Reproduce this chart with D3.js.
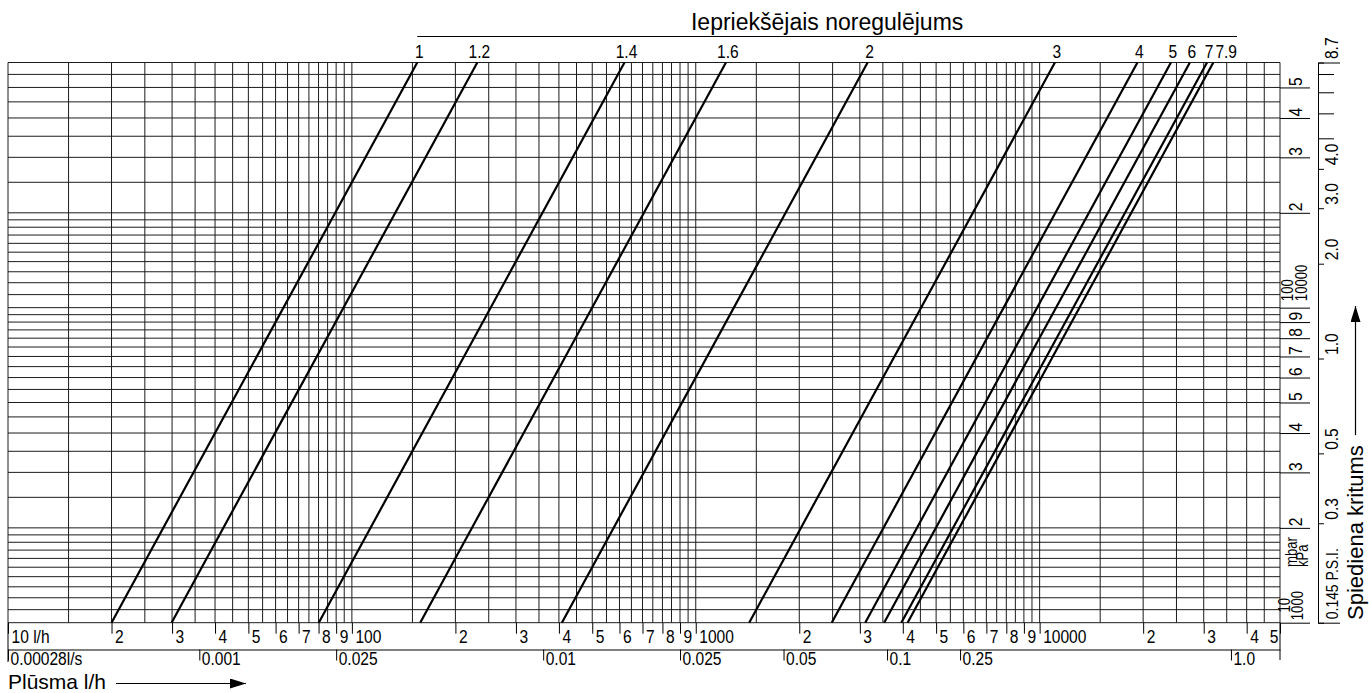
<!DOCTYPE html>
<html>
<head>
<meta charset="utf-8">
<script src="https://cdn.jsdelivr.net/npm/d3@7"></script>
<style>
  html, body { margin: 0; padding: 0; background: #fff; }
  svg { display: block; }
</style>
</head>
<body>
<svg id="chart" width="1369" height="693"></svg>
<script>
// ---- Valve presetting diagram: pressure drop vs. flow for each presetting ----

// Presetting positions and their kv values (m3/h)
const settings = ["1", "1.2", "1.4", "1.6", "2", "3", "4", "5", "6", "7", "7.9"];
const kvValues = [0.200, 0.299, 0.801, 1.58, 4.08, 14.3, 24.85, 31.1, 35.3, 39.6, 41.3];

// Axis ranges
const flowRange = [10, 50000];     // l/h
const pressureRange = [10, 600];   // mbar

// Flow axis (l/h) ticks and labels
const flowTicks = [10, 20, 30, 40, 50, 60, 70, 80, 90,
                   100, 200, 300, 400, 500, 600, 700, 800, 900,
                   1000, 2000, 3000, 4000, 5000, 6000, 7000, 8000, 9000,
                   10000, 20000, 30000, 40000, 50000];
const flowTickLabels = ["10 l/h", "2", "3", "4", "5", "6", "7", "8", "9",
                        "100", "2", "3", "4", "5", "6", "7", "8", "9",
                        "1000", "2", "3", "4", "5", "6", "7", "8", "9",
                        "10000", "2", "3", "4", "5"];

// Flow axis in l/s (positions given in l/h)
const lsTickFlows = [10, 36, 90, 360, 900, 1800, 3600, 5870, 36000];
const lsTickLabels = ["0.00028l/s", "0.001", "0.025", "0.01", "0.025", "0.05", "0.1", "0.25", "1.0"];

// Pressure axis in mbar
const mbarTicks = [10, 20, 30, 40, 50, 60, 70, 80, 90, 100, 200, 300, 400, 500];
const mbarTickLabels = ["10", "2", "3", "4", "5", "6", "7", "8", "9", "100", "2", "3", "4", "5"];
const paTicks = [10, 100];
const paTickLabels = ["1000", "10000"];

// Pressure axis in P.S.I.
const psiTicks = [0.145, 0.3, 0.5, 1.0, 2.0, 3.0, 4.0, 8.7];
const psiTickLabels = ["0.145 P.S.I.", "0.3", "0.5", "1.0", "2.0", "3.0", "4.0", "8.7"];
const psiMinorTicks = [5, 6, 7, 8];
const PSI_TO_MBAR = 68.9476;

// ---- fonts ----
const NARROW = (() => {
  const c = document.createElement("canvas").getContext("2d");
  const s = "0123456789 mbar kPa";
  c.font = "40px monospace"; const w0 = c.measureText(s).width;
  c.font = "40px 'Liberation Sans Narrow', monospace"; const w1 = c.measureText(s).width;
  return Math.abs(w1 - w0) > 0.5;
})();
const numFamily = NARROW ? "'Liberation Sans Narrow', 'Arial Narrow', sans-serif"
                         : "'Liberation Sans', Arial, sans-serif";
const SX = NARROW ? 1 : 0.82;
const titleFamily = "'Liberation Sans', Arial, Helvetica, sans-serif";

// ---- layout ----
const X0 = 8, X1 = 1280;          // plot left/right
const YT = 62.5, YB = 622.7;      // plot top/bottom
const XPSI = 1318;                // P.S.I. column line

const svg = d3.select("#chart");

const x = d3.scaleLog().domain(flowRange).range([X0, X1]);
const y = d3.scaleLog().domain(pressureRange).range([YB, YT]);
const psi = d3.scaleLog().domain(pressureRange.map(p => p / PSI_TO_MBAR)).range([YB, YT]);

// grid values: half-unit steps per flow decade, graded steps per pressure decade
const vGrid = [];
[10, 100, 1000, 10000].forEach(d => {
  for (let m = 1; m < 10; m += 0.5) { const v = d * m; if (v <= flowRange[1]) vGrid.push(v); }
});
const hGrid = [];
for (let v = 10; v < 20; v += 1) hGrid.push(v);
for (let v = 20; v < 100; v += 5) hGrid.push(v);
for (let v = 100; v < 200; v += 10) hGrid.push(v);
for (let v = 200; v <= 600; v += 50) hGrid.push(v);

const grid = svg.append("g").attr("stroke", "#1c1c1c").attr("stroke-width", 1);
grid.selectAll("line.v").data(vGrid).join("line").attr("class", "v")
  .attr("x1", d => x(d)).attr("x2", d => x(d)).attr("y1", YT).attr("y2", YB);
grid.selectAll("line.h").data(hGrid).join("line").attr("class", "h")
  .attr("x1", X0).attr("x2", X1).attr("y1", d => y(d)).attr("y2", d => y(d));

// frame extensions below the plot
svg.append("line").attr("x1", X0).attr("x2", X0).attr("y1", YB).attr("y2", 662).attr("stroke", "#000");
svg.append("line").attr("x1", X1).attr("x2", X1).attr("y1", YB).attr("y2", 660).attr("stroke", "#000");

// ---- presetting curves: Q = kv * 1000 * sqrt(dp[bar]) ----
const flowAt = (kv, p) => kv * 1000 * Math.sqrt(p / 1000);
const line = d3.line().x(d => x(d.q)).y(d => y(d.p));
const curves = settings.map((s, i) => ({
  s, kv: kvValues[i],
  pts: pressureRange.map(p => ({ p, q: flowAt(kvValues[i], p) }))
}));
svg.append("g").selectAll("path").data(curves).join("path")
  .attr("d", d => line(d.pts))
  .attr("fill", "none").attr("stroke", "#000").attr("stroke-width", 2.2);

// curve labels along the top
const lbl = svg.append("g").attr("font-family", numFamily).attr("font-size", 19).attr("fill", "#000");
const labelNodes = lbl.selectAll("text").data(curves).join("text")
  .attr("text-anchor", "middle").text(d => d.s);
const cx = curves.map(d => x(flowAt(d.kv, pressureRange[1])) + 2);
const widths = labelNodes.nodes().map(n => n.getComputedTextLength() * SX);
for (let i = 1; i < cx.length; i++) {
  const minC = cx[i - 1] + widths[i - 1] / 2 + 2 + widths[i] / 2;
  if (cx[i] < minC) cx[i] = minC;
}
labelNodes.attr("transform", (d, i) => `translate(${cx[i]},58) scale(${SX},1)`);

// title over the curve labels
const tx1 = x(flowAt(kvValues[0], pressureRange[1]));
const tx2 = cx[cx.length - 1] + widths[widths.length - 1] / 2;
svg.append("line").attr("x1", tx1).attr("x2", tx2).attr("y1", 36.5).attr("y2", 36.5)
  .attr("stroke", "#000").attr("stroke-width", 1);
svg.append("text").attr("x", (tx1 + tx2) / 2).attr("y", 30).attr("text-anchor", "middle")
  .attr("font-family", titleFamily).attr("font-size", 23).attr("fill", "#000")
  .text("Iepriekšējais noregulējums");

// ---- flow axis (l/h) ----
const gFlow = svg.append("g").attr("transform", `translate(0,${YB})`)
  .call(d3.axisBottom(x).tickValues(flowTicks).tickFormat((d, i) => flowTickLabels[i])
    .tickSize(11).tickSizeOuter(0));
gFlow.select(".domain").remove();
gFlow.attr("font-family", numFamily).attr("font-size", 19);
gFlow.selectAll(".tick line").attr("stroke", "#000");
const lastF = flowTicks.length - 1;
gFlow.selectAll(".tick text").attr("fill", "#000").attr("x", 0).attr("y", 0).attr("dy", null)
  .attr("text-anchor", (d, i) => i === lastF ? "end" : "start")
  .attr("transform", (d, i) => `translate(${i === lastF ? -2 : 3},20) scale(${SX},1)`);

// ---- flow axis (l/s) ----
const gLs = svg.append("g").attr("transform", `translate(0,649.5)`)
  .call(d3.axisBottom(x).tickValues(lsTickFlows).tickFormat((d, i) => lsTickLabels[i])
    .tickSize(11).tickSizeOuter(0));
gLs.attr("font-family", numFamily).attr("font-size", 19);
gLs.select(".domain").attr("stroke", "#000");
gLs.selectAll(".tick line").attr("stroke", "#000");
gLs.selectAll(".tick text").attr("fill", "#000").attr("x", 0).attr("y", 0).attr("dy", null)
  .attr("text-anchor", "start")
  .attr("transform", `translate(2,15.5) scale(${SX},1)`);

// ---- pressure axis (mbar) ----
const gM = svg.append("g").attr("transform", `translate(${X1},0)`)
  .call(d3.axisRight(y).tickValues(mbarTicks).tickFormat((d, i) => mbarTickLabels[i])
    .tickSize(30).tickSizeOuter(0));
gM.select(".domain").remove();
gM.attr("font-family", numFamily).attr("font-size", 19);
gM.selectAll(".tick line").attr("stroke", "#000");
gM.selectAll(".tick text").attr("fill", "#000").attr("x", 0).attr("y", 0).attr("dy", null)
  .attr("text-anchor", "start")
  .attr("transform", `translate(22,-2) rotate(-90) scale(${SX},1)`);

// stacked labels at the decade ticks (mbar / Pa)
gM.selectAll(".tick").filter(d => paTicks.includes(d)).each(function (d) {
  const g = d3.select(this);
  const k = paTicks.indexOf(d);
  const t = g.select("text").attr("font-size", 16);
  if (k === 0) {
    t.attr("text-anchor", "middle").attr("transform", `translate(10,-18) rotate(-90) scale(${SX},1)`);
    g.append("text").attr("fill", "#000").attr("font-size", 16).attr("text-anchor", "start")
      .attr("transform", `translate(23,-3) rotate(-90) scale(${SX},1)`).text(paTickLabels[k]);
  } else {
    t.attr("transform", `translate(13,-7) rotate(-90) scale(${SX},1)`);
    g.append("text").attr("fill", "#000").attr("font-size", 16).attr("text-anchor", "start")
      .attr("transform", `translate(27,-7) rotate(-90) scale(${SX},1)`).text(paTickLabels[k]);
  }
});

// unit labels
const units = svg.append("g").attr("font-family", numFamily).attr("font-size", 16).attr("fill", "#000");
units.append("text").attr("transform", `translate(${X1 + 17},567) rotate(-90) scale(${SX},1)`).text("mbar");
units.append("text").attr("transform", `translate(${X1 + 28},567) rotate(-90) scale(${SX},1)`).text("kPa");

// ---- pressure axis (P.S.I.) ----
const gP = svg.append("g").attr("transform", `translate(${XPSI},0)`)
  .call(d3.axisRight(psi).tickValues(psiTicks).tickFormat((d, i) => psiTickLabels[i])
    .tickSize(6).tickSizeOuter(22));
gP.attr("font-family", numFamily).attr("font-size", 19);
gP.select(".domain").attr("stroke", "#000");
gP.selectAll(".tick line").attr("stroke", "#000");
gP.selectAll(".tick text").attr("fill", "#000").attr("x", 0).attr("y", 0).attr("dy", null)
  .attr("text-anchor", "start")
  .attr("font-size", (d, i) => i === 0 ? 17 : 19)
  .attr("transform", `translate(20,-4) rotate(-90) scale(${SX},1)`);

const gPm = svg.append("g").attr("transform", `translate(${XPSI + 1},0)`)
  .call(d3.axisRight(psi).tickValues(psiMinorTicks).tickFormat("").tickSize(15).tickSizeOuter(0));
gPm.select(".domain").remove();
gPm.selectAll(".tick line").attr("stroke", "#000");

// ---- axis titles with arrows ----
const defs = svg.append("defs");
defs.append("marker").attr("id", "arrow").attr("viewBox", "0 0 16 10")
  .attr("refX", 16).attr("refY", 5).attr("markerWidth", 16).attr("markerHeight", 10)
  .attr("markerUnits", "userSpaceOnUse").attr("orient", "auto")
  .append("path").attr("d", "M0,0L16,5L0,10Z").attr("fill", "#000");

const xt = svg.append("text").attr("x", X0).attr("y", 688.5)
  .attr("font-family", titleFamily).attr("font-size", 21).attr("fill", "#000").text("Plūsma l/h");
const xtEnd = X0 + xt.node().getComputedTextLength();
svg.append("line").attr("x1", xtEnd + 10).attr("x2", 246).attr("y1", 683.5).attr("y2", 683.5)
  .attr("stroke", "#000").attr("stroke-width", 1.2).attr("marker-end", "url(#arrow)");

const yt = svg.append("text").attr("transform", "translate(1363,620) rotate(-90)")
  .attr("font-family", titleFamily).attr("font-size", 22).attr("fill", "#000").text("Spiediena kritums");
const ytEnd = 620 - yt.node().getComputedTextLength();
svg.append("line").attr("x1", 1355.5).attr("x2", 1355.5).attr("y1", ytEnd - 10).attr("y2", 306)
  .attr("stroke", "#000").attr("stroke-width", 1.2).attr("marker-end", "url(#arrow)");
</script>
</body>
</html>
